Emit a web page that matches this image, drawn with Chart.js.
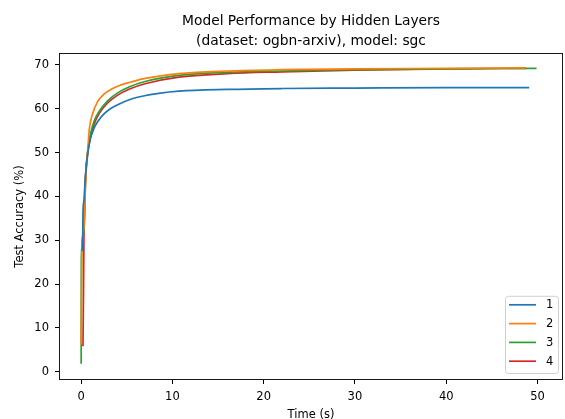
<!DOCTYPE html>
<html>
<head>
<meta charset="utf-8">
<script src="https://cdn.jsdelivr.net/npm/chart.js@4/dist/chart.umd.min.js"></script>
<style>
  html, body { margin: 0; padding: 0; background: #fff; }
  #wrap { width: 565px; height: 419px; }
</style>
</head>
<body>
<div id="wrap"><canvas id="chart" width="565" height="419"></canvas></div>
<script>
// hidden layer counts (legend labels)
const layerLabels = ['1', '2', '3', '4'];
const lineColors = ['#1f77b4', '#ff7f0e', '#2ca02c', '#d62728'];

// time (s) and test accuracy (%) per run
const time1 = [0, 0.15, 0.2, 0.3, 0.45, 0.7, 1.0, 1.4, 1.8, 2.5, 3.2, 4.0, 5.5, 6.8, 8.5, 10.7, 16, 22, 30, 40, 49.1];
const acc1  = [27.7, 27.8, 36.4, 39, 44, 49.5, 53, 55.5, 57, 58.8, 60.0, 60.9, 62.2, 62.9, 63.5, 64.0, 64.4, 64.6, 64.7, 64.8, 64.8];

const time2 = [0, 0.08, 0.3, 0.5, 0.7, 0.9, 1.2, 1.8, 2.5, 3.25, 4.2, 5.5, 7, 10.7, 16, 22, 30, 40, 48.7];
const acc2  = [6.2, 27, 33, 44, 50, 55.5, 58.5, 61.6, 63.3, 64.4, 65.3, 66.1, 66.9, 68.0, 68.6, 68.9, 69.1, 69.2, 69.3];

const time3 = [0, 0.02, 0.3, 0.5, 0.7, 1.0, 1.44, 2.0, 2.9, 4.0, 5.3, 7, 10.7, 16, 22, 30, 40, 49.9];
const acc3  = [1.8, 26, 32, 45, 50, 54, 57.3, 59.5, 61.8, 63.6, 65.0, 66.2, 67.6, 68.3, 68.6, 68.9, 69.1, 69.2];

const time4 = [0.15, 0.2, 0.3, 0.45, 0.7, 1.0, 1.44, 2.0, 2.9, 4.0, 5.3, 7, 10.7, 16, 22, 30, 40, 48.8];
const acc4  = [6.1, 6.0, 30, 43, 49.5, 53.5, 56.6, 59.0, 61.3, 63.1, 64.5, 65.7, 67.2, 68.0, 68.4, 68.8, 69.1, 69.2];

const xTicks = [0, 10, 20, 30, 40, 50];
const yTicks = [0, 10, 20, 30, 40, 50, 60, 70];

const times = [time1, time2, time3, time4];
const accs = [acc1, acc2, acc3, acc4];

const FONT = 'DejaVu Sans';
const TICK_SIZE = 11.5;

const datasets = layerLabels.map((lab, i) => ({
  label: lab,
  data: times[i].map((t, j) => ({ x: t, y: accs[i][j] })),
  borderColor: lineColors[i],
  backgroundColor: lineColors[i],
  borderWidth: 1.7,
  pointRadius: 0,
  cubicInterpolationMode: 'monotone',
  fill: false
}));

// box around the plot + legend in the lower right corner
const framePlugin = {
  id: 'frame',
  afterDatasetsDraw(chart) {
    const { ctx, chartArea: a } = chart;
    ctx.save();
    ctx.strokeStyle = '#000';
    ctx.lineWidth = 0.9;
    ctx.strokeRect(a.left + 0.5, a.top + 0.5, a.right - a.left - 1, a.bottom - a.top - 1);

    // legend
    const boxW = 53, rowH = 18.8;
    const boxH = layerLabels.length * rowH + 2;
    const bx = a.right - 5 - boxW, by = a.bottom - 7 - boxH;
    ctx.fillStyle = 'rgba(255,255,255,0.8)';
    ctx.strokeStyle = '#d0d0d0';
    ctx.lineWidth = 1;
    ctx.beginPath();
    ctx.roundRect(bx + 0.5, by + 0.5, boxW, boxH, 3);
    ctx.fill();
    ctx.stroke();
    ctx.font = TICK_SIZE + 'px ' + FONT;
    ctx.textBaseline = 'middle';
    layerLabels.forEach((lab, i) => {
      const y = by + 9 + rowH * i;
      ctx.strokeStyle = lineColors[i];
      ctx.lineWidth = 1.7;
      ctx.beginPath();
      ctx.moveTo(bx + 4, y);
      ctx.lineTo(bx + 31, y);
      ctx.stroke();
      ctx.fillStyle = '#000';
      ctx.fillText(lab, bx + 41, y + 0.5);
    });
    ctx.restore();
  }
};

new Chart(document.getElementById('chart'), {
  type: 'line',
  data: { datasets },
  options: {
    responsive: false,
    animation: false,
    layout: { padding: { left: 0, right: 2, top: 0, bottom: 0 } },
    plugins: {
      legend: { display: false },
      tooltip: { enabled: false },
      title: {
        display: true,
        fullSize: false,
        text: ['Model Performance by Hidden Layers', '(dataset: ogbn-arxiv), model: sgc'],
        color: '#000',
        font: { family: FONT, size: 13.8, weight: 'normal', lineHeight: 1.45 },
        padding: { top: 11, bottom: 2 }
      }
    },
    scales: {
      x: {
        type: 'linear',
        min: -2.43,
        max: 52.8,
        afterBuildTicks: (axis) => { axis.ticks = xTicks.map(v => ({ value: v })); },
        afterFit: (axis) => { axis.height = 39; },
        ticks: { color: '#000', font: { family: FONT, size: TICK_SIZE }, padding: 6, maxRotation: 0 },
        grid: { display: true, drawOnChartArea: false, drawTicks: true, tickLength: 4, color: '#000' },
        border: { display: false },
        title: { display: true, text: 'Time (s)', color: '#000', font: { family: FONT, size: TICK_SIZE }, padding: { top: 4, bottom: -3 } }
      },
      y: {
        type: 'linear',
        min: -1.9,
        max: 72.7,
        afterBuildTicks: (axis) => { axis.ticks = yTicks.map(v => ({ value: v })); },
        afterFit: (axis) => { axis.width = 59; },
        ticks: { color: '#000', font: { family: FONT, size: TICK_SIZE }, padding: 6 },
        grid: { display: true, drawOnChartArea: false, drawTicks: true, tickLength: 4, color: '#000' },
        border: { display: false },
        title: { display: true, text: 'Test Accuracy (%)', color: '#000', font: { family: FONT, size: TICK_SIZE }, padding: { top: 13, bottom: 0 } }
      }
    }
  },
  plugins: [framePlugin]
});
</script>
</body>
</html>
